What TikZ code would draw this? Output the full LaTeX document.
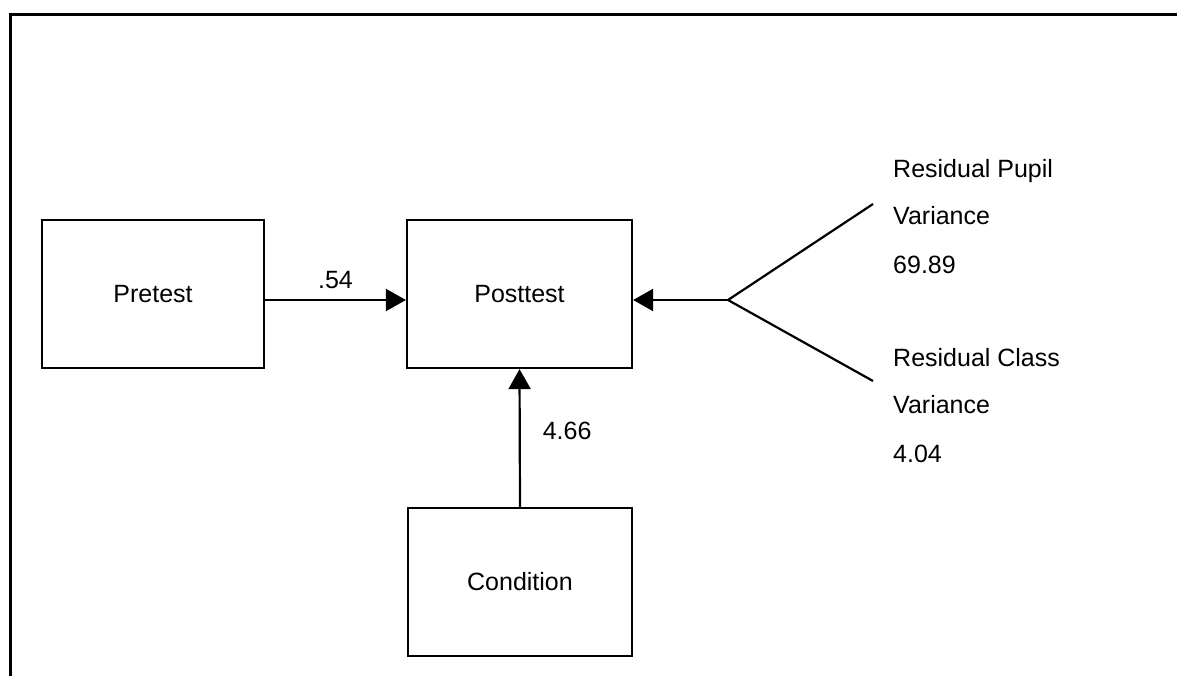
\documentclass[tikz,border=0pt]{standalone}
\usepackage{fontspec}
\setmainfont{Liberation Sans}
\usetikzlibrary{arrows.meta}
\begin{document}
\begin{tikzpicture}[x=1pt,y=-1pt,
  every node/.style={font=\fontsize{25}{30}\selectfont},
  box/.style={draw,line width=2.2pt,minimum height=148pt,inner sep=0pt},
  conn/.style={line width=2.2pt,-{Triangle[length=20pt,width=22pt]}},
  leg/.style={line width=2.2pt},
  lab/.style={anchor=base west,inner sep=0pt}]
\useasboundingbox (0,0) rectangle (1177,675);
% outer frame, open at right and bottom
\draw[line width=2.5pt] (10.3,676) -- (10.3,14.5) -- (1178,14.5);
% boxes
\node[box,minimum width=222pt] (pre) at (153,294) {Pretest};
\node[box,minimum width=225pt] (post) at (519.5,294) {Posttest};
\node[box,minimum width=224pt] (cond) at (520,582) {Condition};
% paths
\draw[conn] ([yshift=-6pt]pre.east) -- ([yshift=-6pt]post.west)
  node[midway,above=10pt,inner sep=0pt] (b1) {.54};
\draw[conn] (cond.north) -- (post.south)
  node[pos=0.55,right=22pt,inner sep=0pt] (b2) {4.66};
% residual variance fork
\coordinate (fork) at (728,300);
\coordinate (up) at (873,204);
\coordinate (dn) at (873,381);
\draw[leg] (up) -- (fork) -- (dn);
\draw[conn] (fork) -- ([yshift=-6pt]post.east);
\node[lab] (r1) at (893,177) {Residual Pupil};
\node[lab] (r2) at (893,224) {Variance};
\node[lab] (r3) at (893,273) {69.89};
\node[lab] (r4) at (893,366) {Residual Class};
\node[lab] (r5) at (893,413) {Variance};
\node[lab] (r6) at (893,462) {4.04};
\end{tikzpicture}
\end{document}
